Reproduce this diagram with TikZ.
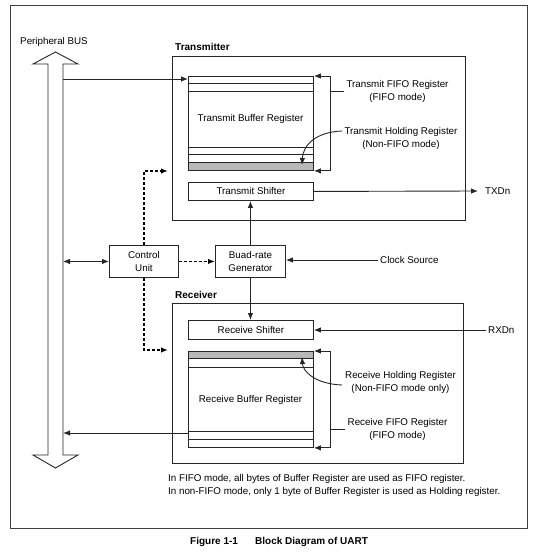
\documentclass[tikz,border=0pt]{standalone}
\usepackage{fontspec}
\setmainfont{Liberation Sans}
\usetikzlibrary{arrows.meta,calc}
\newcommand\myfs{\fontsize{9.8}{12.8}\selectfont}
\newcommand\mybf{\fontsize{10}{12}\selectfont\bfseries}
\begin{document}
\begin{tikzpicture}[x=1pt,y=-1pt,font=\myfs,
  line/.style={line width=0.9pt, draw=black!85},
  tip/.style={-{Latex[length=7pt,width=5.5pt]}},
  arr/.style={line, tip},
  darr/.style={arr, dash pattern=on 3pt off 2pt, line width=1.5pt, draw=black},
  box/.style={line, draw, rectangle, inner sep=0pt, align=center, anchor=north west},
  lbl/.style={align=center, inner sep=2pt},
  gfill/.style={fill=black!28},
]
\useasboundingbox (0,0) rectangle (541,553);
% frame
\node[box, draw=black!75, minimum width=517, minimum height=523] (frame) at (10,5) {};
% bus
\node[lbl] (buslbl) at (54,42) {Peripheral BUS};
\draw[line] (48,455) -- (48,64) -- (33,64) -- (55.5,52) -- (78,64) -- (63,64) -- (63,455) -- (78,455) -- (55.5,468) -- (33,455) -- (48,455) -- cycle;
\coordinate (busR) at (63,0);
% transmitter
\node[anchor=west, inner sep=0pt, font=\mybf] (txlbl) at (175,47) {Transmitter};
\node[box, minimum width=293, minimum height=164] (tx) at (172,56) {};
\node[box, minimum width=125, minimum height=94] (tbuf) at (188,76) {};
\fill[gfill] (tbuf.south west) rectangle (tbuf.east |- 0,162);
\draw[line] (tbuf.south west) rectangle (tbuf.east |- 0,162);
\foreach \yy in {83,91,147,154}
  \draw[line] (tbuf.west |- 0,\yy) -- (tbuf.east |- 0,\yy);
\node[lbl] (tbuftxt) at (250.5,119) {Transmit Buffer Register};
\node[box, minimum width=125, minimum height=18] (tsh) at (188,182) {Transmit Shifter};
\node[anchor=west, inner sep=0pt] (txd) at (485,191) {TXDn};
\draw[arr] (tsh.east) -- ([xshift=-7pt]txd.west);
\draw[arr] (busR |- 0,79) -- (tbuf.west |- 0,79);
% transmit bracket
\coordinate (tbrk) at (330,0);
\node[lbl] (tfifolbl) at (397.5,91.5) {Transmit FIFO Register\\(FIFO mode)};
\draw[arr] (tfifolbl.west) -- (tbrk |- tfifolbl.west) |- (tbuf.north east);
\draw[arr] (tbrk |- tfifolbl.west) |- (tbuf.south east);
\node[lbl] (thlbl) at (401,138.5) {Transmit Holding Register\\(Non-FIFO mode)};
\coordinate (thstart) at (342,131);
\coordinate (thend) at (302,165);
\draw[arr] (thstart) .. controls (316,132) and (303,145) .. (thend);
% control / baud
\node[box, minimum width=69, minimum height=32] (cu) at (109,245) {Control\\Unit};
\node[box, minimum width=70, minimum height=32] (bg) at (215,245) {Buad-rate\\Generator};
\draw[line, {Latex[length=7pt,width=5.5pt]}-{Latex[length=7pt,width=5.5pt]}] (busR |- cu.west) -- (cu.west);
\draw[darr] (cu.east) -- (bg.west);
\coordinate (cuup) at (168,171);
\coordinate (cudn) at (168,350);
\draw[darr] (cu.north) |- (cuup);
\draw[darr] (cu.south) |- (cudn);
\draw[arr] (bg.north) -- (bg.north |- tsh.south);
\node[anchor=west, inner sep=2pt] (clk) at (378,260) {Clock Source};
\draw[arr] (clk.west) -- (bg.east |- clk.west);
% receiver
\node[anchor=west, inner sep=0pt, font=\mybf] (rxlbl) at (175,295) {Receiver};
\node[box, minimum width=291, minimum height=160] (rx) at (172,303) {};
\node[box, minimum width=125, minimum height=19] (rsh) at (188,320) {Receive Shifter};
\draw[arr] (bg.south) -- (bg.south |- rsh.north);
\node[anchor=west, inner sep=2pt] (rxd) at (486,330) {RXDn};
\draw[arr] (rxd.west) -- (rsh.east |- rxd.west);
\node[box, minimum width=125, minimum height=96] (rbuf) at (188,351) {};
\fill[gfill] (rbuf.north west) rectangle (rbuf.east |- 0,358.5);
\draw[line] (rbuf.north west) rectangle (rbuf.east |- 0,358.5);
\foreach \yy in {367,431,439}
  \draw[line] (rbuf.west |- 0,\yy) -- (rbuf.east |- 0,\yy);
\node[lbl] (rbuftxt) at (250.5,400) {Receive Buffer Register};
\draw[arr] (rbuf.west |- 0,433) -- (busR |- 0,433);
% receive bracket
\coordinate (rbrk) at (330,0);
\node[lbl] (rfifolbl) at (397.5,429.5) {Receive FIFO Register\\(FIFO mode)};
\draw[arr] (rfifolbl.west) -- (rbrk |- rfifolbl.west) |- (rbuf.north east);
\draw[arr] (rbrk |- rfifolbl.west) |- (rbuf.south east);
\node[lbl] (rhlbl) at (400.5,382.5) {Receive Holding Register\\(Non-FIFO mode only)};
\coordinate (rhstart) at (342,385);
\coordinate (rhend) at (302,357);
\draw[arr] (rhstart) .. controls (316,384) and (303,372) .. (rhend);
% notes
\node[anchor=north west, inner sep=0pt, align=left] (notes) at (168,474) {In FIFO mode, all bytes of Buffer Register are used as FIFO register.\\In non-FIFO mode, only 1 byte of Buffer Register is used as Holding register.};
% caption
\node[anchor=west, inner sep=0pt, font=\mybf] (fig) at (190,542) {Figure 1-1};
\node[anchor=west, inner sep=0pt, font=\mybf] (figt) at (255,542) {Block Diagram of UART};
\end{tikzpicture}
\end{document}
